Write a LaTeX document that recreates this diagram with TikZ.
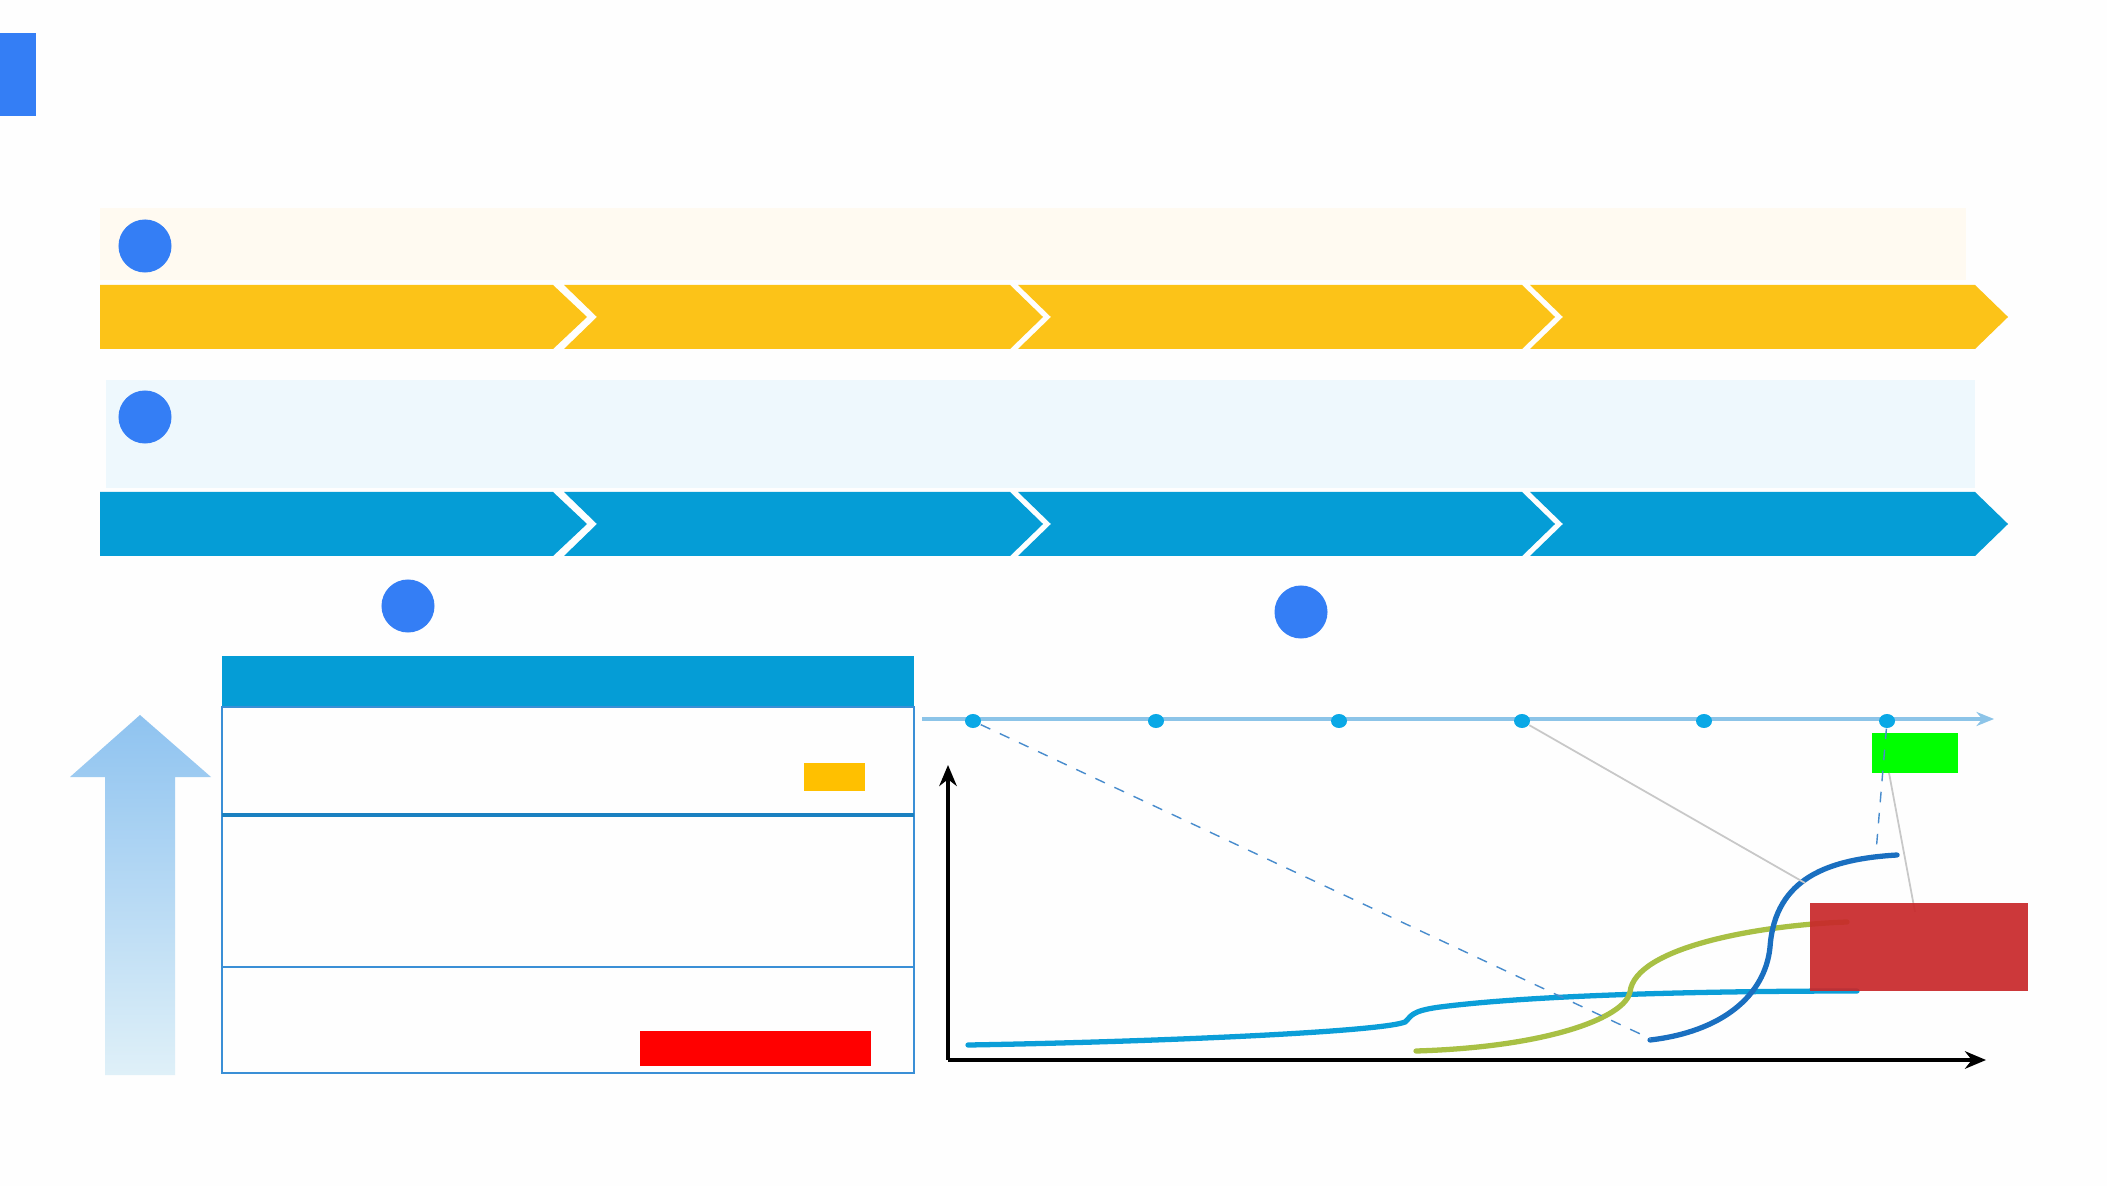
\documentclass[tikz,border=0pt]{standalone}
\usetikzlibrary{arrows.meta,shapes.geometric}
\definecolor{bgc}{HTML}{FEFEFE}
\definecolor{yelbar}{HTML}{FCC318}
\definecolor{yelband}{HTML}{FFFAF1}
\definecolor{blubar}{HTML}{059DD6}
\definecolor{bluband}{HTML}{EEF8FD}
\definecolor{dotblue}{HTML}{347EF5}
\definecolor{tline}{HTML}{8CC4E8}
\definecolor{tdot}{HTML}{0AA8E6}
\definecolor{tborder}{HTML}{3A8FD6}
\definecolor{tsep}{HTML}{1A80C0}
\definecolor{cyanc}{HTML}{0B9ED8}
\definecolor{olivec}{HTML}{A8C044}
\definecolor{bluec}{HTML}{1A6FC0}
\definecolor{redbox}{HTML}{C8282A}
\definecolor{greenbox}{HTML}{00FF00}
\definecolor{orangebox}{HTML}{FFC000}
\definecolor{redbar}{HTML}{FF0000}
\definecolor{grayln}{HTML}{C8C8C8}
\definecolor{uptop}{HTML}{8FC3F0}
\definecolor{upbot}{HTML}{DFF0F8}
\tikzset{
  badge/.style={circle,fill=dotblue,inner sep=0pt,minimum size=0.53cm},
  tdotst/.style={ellipse,fill=tdot,inner sep=0pt,minimum width=0.16cm,minimum height=0.14cm},
  curvest/.style={line width=1.5pt,line cap=round},
  axisst/.style={line width=0.9pt,-{Stealth[length=6pt,width=5pt]}},
}
\begin{document}
\begin{tikzpicture}[x=0.01cm,y=-0.01cm]
\fill[bgc] (0,0) rectangle (2107,1186);
\useasboundingbox (0,0) rectangle (2107,1186);
% title marker
\fill[dotblue] (0,33) rectangle (36,116);
% bands
\fill[yelband] (100,208) rectangle (1966,280);
\fill[bluband] (106,380) rectangle (1975,488);
% yellow chevrons
\fill[yelbar] (100,285) -- (553,285) -- (587,317) -- (553,349) -- (100,349) -- cycle;
\foreach \a/\b in {564/1010,1018/1522,1530/1975}{
  \fill[yelbar] (\a,285) -- (\b,285) -- ({\b+33},317) -- (\b,349) -- (\a,349) -- ({\a+33},317) -- cycle;
}
% blue chevrons
\fill[blubar] (100,492) -- (553,492) -- (587,524) -- (553,556) -- (100,556) -- cycle;
\foreach \a/\b in {564/1010,1018/1522,1530/1975}{
  \fill[blubar] (\a,492) -- (\b,492) -- ({\b+33},524) -- (\b,556) -- (\a,556) -- ({\a+33},524) -- cycle;
}
% badges
\node[badge] (b1) at (145,246) {};
\node[badge] (b2) at (145,417) {};
\node[badge] (b3) at (408,606) {};
\node[badge] (b4) at (1301,612) {};
% up arrow
\shade[top color=uptop,bottom color=upbot] (140,715) -- (211,777) -- (175,777) -- (175,1075) -- (105,1075) -- (105,777) -- (70,777) -- cycle;
% table
\fill[blubar] (222,656) rectangle (914,707);
\draw[tborder,line width=0.5pt] (222,707) rectangle (914,1073);
\draw[tsep,line width=0.9pt] (222,815) -- (914,815);
\draw[tborder,line width=0.5pt] (222,967) -- (914,967);
\fill[orangebox] (804,763) rectangle (865,791);
\fill[redbar] (640,1031) rectangle (871,1066);
% timeline
\draw[tline,line width=1.4pt,-{Stealth[length=5pt,width=4pt]}] (922,719) -- (1994,719);
\foreach \i/\x in {1/973,2/1156,3/1339,4/1522,5/1704,6/1887}{
  \node[tdotst] (d\i) at (\x,721) {};
}
% axes
\coordinate (org) at (948,1060);
\draw[axisst] (org) -- (948,765);
\draw[axisst] (org) -- (1986,1060);
% boxes
\node[fill=greenbox,minimum width=0.86cm,minimum height=0.40cm,inner sep=0pt] (gb) at (1915,753) {};
% curves
\draw[cyanc,curvest] (968,1045) .. controls (1150,1042) and (1380,1032) .. (1405,1022) .. controls (1412,1016) and (1410,1011) .. (1440,1007) .. controls (1550,993) and (1750,991) .. (1857,991);
\draw[olivec,curvest] (1416,1051) .. controls (1550,1047) and (1625,1017) .. (1630,992) .. controls (1635,947) and (1760,925) .. (1847,922);
\draw[bluec,curvest] (1650,1040) .. controls (1720,1032) and (1765,997) .. (1770,947) .. controls (1775,877) and (1830,859) .. (1897,855);
% connectors
\coordinate (e1) at (1651,1039);
\coordinate (e2) at (1805,883);
\coordinate (e3) at (1876,852);
\coordinate (e4) at (1915,912);
\coordinate (gs) at (1889,773);
\draw[bluec!80,dashed,line width=0.4pt] (d1) -- (e1);
\draw[grayln,line width=0.5pt] (d4) -- (e2);
\draw[bluec!80,dashed,line width=0.4pt] (d6) -- (e3);
\draw[grayln,line width=0.5pt] (gs) -- (e4);
\node[fill=redbox,fill opacity=0.92,minimum width=2.18cm,minimum height=0.87cm,inner sep=0pt] (rb) at (1919,947) {};
\end{tikzpicture}
\end{document}
